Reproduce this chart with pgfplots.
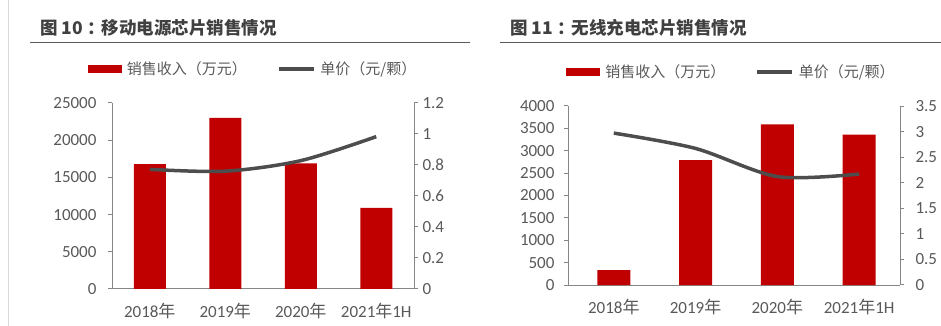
\documentclass[border=0pt]{standalone}
\usepackage{fontspec}
\setmainfont{Carlito}
\newfontfamily\cjk{Noto Sans CJK SC}
\usepackage{pgfplots}
\pgfplotsset{compat=1.18}
\definecolor{barred}{HTML}{C00000}
\definecolor{linegray}{HTML}{4D4D4D}
\definecolor{axgray}{HTML}{868686}
\definecolor{txtgray}{HTML}{595959}
\definecolor{titlegray}{HTML}{404040}
\newcommand{\zh}[1]{{\cjk #1}}
\pgfplotsset{
  common/.style={
    scale only axis,
    anchor=south west,
    xmin=-0.5, xmax=3.5, ymin=0,
    axis line style={axgray, line width=1pt},
    tick style={axgray, line width=1pt},
    tick align=outside,
    major tick length=4pt,
    xtick style={draw=none},
    ytick pos=left,
    tick label style={font=\fontsize{17}{20}\selectfont, text=txtgray},
    xticklabel style={yshift=-7pt},
    /pgf/number format/assume math mode=true,
    /pgf/number format/fixed,
    /pgf/number format/1000 sep={},
    scaled y ticks=false,
    clip=false,
  },
  barleg/.style={legend image code/.code={\fill[##1] (0pt,-4pt) rectangle (34pt,4pt);}},
  lineleg/.style={legend image code/.code={\draw[##1] (0pt,0pt) -- (35pt,0pt);}},
  legstyle/.style={
    legend columns=2,
    legend style={draw=none, fill=none, inner sep=0pt, outer sep=0pt,
      font=\fontsize{15}{18}\selectfont\cjk, text=txtgray,
      /tikz/every odd column/.append style={column sep=3pt},
      /tikz/every even column/.append style={column sep=28pt},
      legend cell align=left},
  },
}
\begin{document}
\begin{tikzpicture}
\path[use as bounding box] (0,0) rectangle (941pt,326pt);
\draw[gray!30, line width=1pt] (8.3pt,0pt) -- (8.3pt,326pt);
% titles
\node[anchor=west, inner sep=0pt, text=titlegray] at (40pt,298pt) {\cjk\bfseries\fontsize{17.5}{20}\selectfont 图 10\hspace{4pt}：\hspace{-3pt}移动电源芯片销售情况};
\draw[txtgray, line width=1.5pt] (30pt,283.3pt) -- (470pt,283.3pt);
\node[anchor=west, inner sep=0pt, text=titlegray] at (510pt,298pt) {\cjk\bfseries\fontsize{17.5}{20}\selectfont 图 11\hspace{4pt}：\hspace{-3pt}无线充电芯片销售情况};
\draw[txtgray, line width=1.5pt] (500pt,283.3pt) -- (941pt,283.3pt);

% ---------- Chart 10 ----------
\begin{axis}[common, legstyle, at={(112pt,37pt)}, width=302pt, height=186pt,
  ymax=25000, ytick={0,5000,...,25000},
  axis y line*=left, axis x line*=bottom,
  yticklabel style={xshift=-8pt},
  xtick={0,1,2,3},
  xticklabels={2018\zh{年},2019\zh{年},2020\zh{年},2021\zh{年}1H},
  legend style={at={(-0.0795,1.183)}, anchor=west},
]
\addplot[ybar, bar width=32pt, fill=barred, draw=none, barleg] coordinates {(0,16800)(1,23000)(2,16900)(3,10900)};
\addlegendentry{销售收入（万元）}
\addlegendimage{linegray, line width=3.5pt, lineleg}
\addlegendentry{单价（元/颗）}
\end{axis}
\begin{axis}[common, at={(112pt,37pt)}, width=302pt, height=186pt,
  ymax=1.2, ytick={0,0.2,...,1.2},
  axis y line*=right, axis x line=none, ytick pos=right,
  yticklabel style={xshift=1pt},
]
\addplot[smooth, linegray, line width=3.5pt] coordinates {(0,0.772)(1,0.760)(2,0.828)(3,0.983)};
\end{axis}

% ---------- Chart 11 ----------
\begin{axis}[common, legstyle, at={(568pt,41pt)}, width=332pt, height=179pt,
  xmin=-0.56,
  ymax=4000, ytick={0,500,...,4000},
  axis y line*=left, axis x line*=bottom,
  yticklabel style={xshift=-6pt},
  xtick={0,1,2,3},
  xticklabels={2018\zh{年},2019\zh{年},2020\zh{年},2021\zh{年}1H},
  legend style={at={(-0.005,1.19)}, anchor=west},
]
\addplot[ybar, bar width=33pt, fill=barred, draw=none, barleg] coordinates {(0,335)(1,2790)(2,3590)(3,3360)};
\addlegendentry{销售收入（万元）}
\addlegendimage{linegray, line width=3.5pt, lineleg}
\addlegendentry{单价（元/颗）}
\end{axis}
\begin{axis}[common, at={(568pt,41pt)}, width=332pt, height=179pt,
  xmin=-0.56,
  ymax=3.5, ytick={0,0.5,...,3.5},
  axis y line*=right, axis x line=none, ytick pos=right,
  yticklabel style={xshift=8pt},
]
\addplot[smooth, linegray, line width=3.5pt] coordinates {(0,2.97)(1,2.67)(2,2.12)(3,2.17)};
\end{axis}
\end{tikzpicture}
\end{document}
